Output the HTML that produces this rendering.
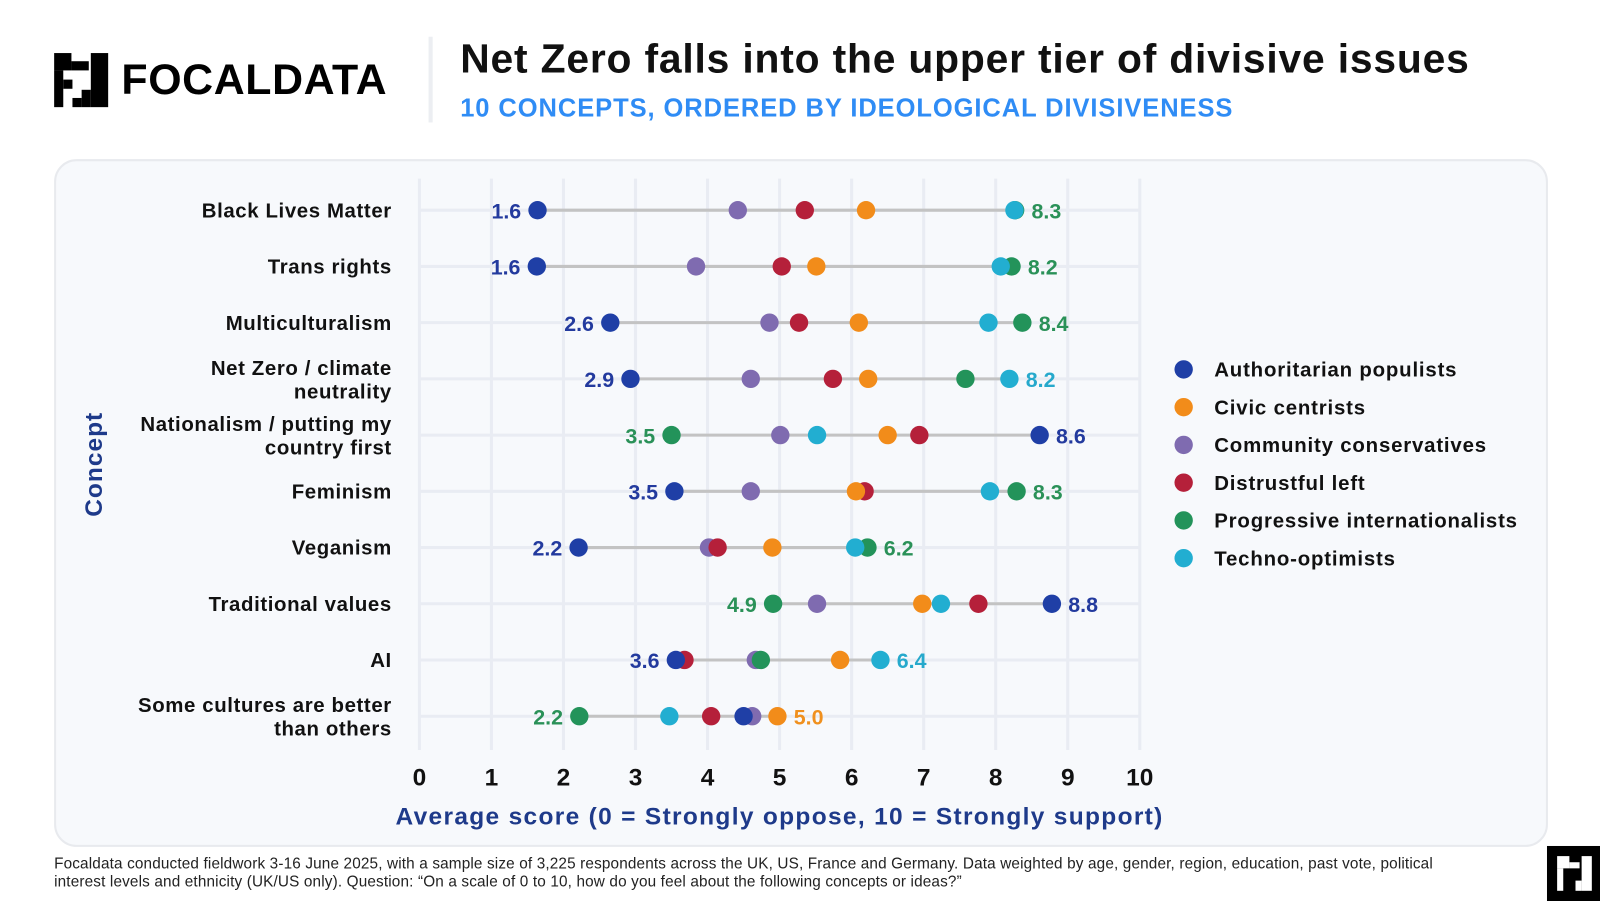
<!DOCTYPE html>
<html><head><meta charset="utf-8"><style>
body{margin:0;width:1600px;height:900px;background:#fff;font-family:"Liberation Sans",sans-serif;overflow:hidden;position:relative}
#wrap{position:absolute;left:0;top:0;width:1568px;height:882px;transform:scale(1.0204);transform-origin:0 0}
.abs{position:absolute}
</style></head><body>
<div id="wrap">
<div class="abs" style="left:53px;top:52px;width:330px;height:55px">
<svg width="54" height="54" style="position:absolute;left:0;top:0">
<rect x="0" y="0" width="17" height="17" fill="#000"/><rect x="17" y="8" width="17" height="9" fill="#000"/><rect x="0" y="17" width="9" height="36" fill="#000"/><rect x="9" y="26" width="9" height="9" fill="#000"/><rect x="36" y="0" width="17" height="53" fill="#000"/><rect x="27" y="36" width="9" height="17" fill="#000"/><rect x="18" y="44" width="9" height="9" fill="#000"/>
</svg>
<div class="abs" style="left:66px;top:2px;font-size:42px;font-weight:bold;letter-spacing:0.6px;color:#000">FOCALDATA</div>
</div>
<div class="abs" style="left:420px;top:36px;width:4px;height:84px;background:#eceef2"></div>
<div class="abs" style="left:451px;top:36px;font-size:40px;font-weight:bold;letter-spacing:0.8px;color:#111;white-space:nowrap">Net Zero falls into the upper tier of divisive issues</div>
<div class="abs" style="left:451px;top:92px;font-size:25px;font-weight:bold;letter-spacing:0.9px;color:#2f8cf5;white-space:nowrap">10 CONCEPTS, ORDERED BY IDEOLOGICAL DIVISIVENESS</div>
<div class="abs" style="left:53px;top:156px;width:1460px;height:670px;background:#f7f9fc;border:2px solid #e8eaee;border-radius:22px"></div>
<svg class="abs" style="left:0;top:0" width="1568" height="882" id="chart"></svg>
<div class="abs" style="left:53px;top:838px;font-size:15px;line-height:18px;color:#222;width:1400px;letter-spacing:0.15px">Focaldata conducted fieldwork 3-16 June 2025, with a sample size of 3,225 respondents across the UK, US, France and Germany. Data weighted by age, gender, region, education, past vote, political interest levels and ethnicity (UK/US only). Question: “On a scale of 0 to 10, how do you feel about the following concepts or ideas?”</div>
<svg class="abs" style="left:1516px;top:829px" width="54" height="54">
<rect width="54" height="54" fill="#000"/><g fill="#fff"><rect x="10" y="10" width="12" height="12"/><rect x="22" y="16" width="10" height="6"/><rect x="10" y="22" width="6" height="22"/><rect x="34" y="10" width="10" height="34"/><rect x="28" y="34" width="6" height="10"/></g>
</svg>
</div>
<script>
const concepts=["Black Lives Matter","Trans rights","Multiculturalism","Net Zero / climate|neutrality","Nationalism / putting my|country first","Feminism","Veganism","Traditional values","AI","Some cultures are better|than others"];
const groups=["Authoritarian populists","Civic centrists","Community conservatives","Distrustful left","Progressive internationalists","Techno-optimists"];
const colors=["#1f3fa6","#f28c1a","#7f6bb0","#b5203a","#23935a","#22aed1"];
const labelColors=["#233a9e","#f0901e","#7f6bb0","#b5203a","#2a9158","#26a9cc"];
const authPop=[1.64,1.63,2.65,2.93,8.61,3.54,2.21,8.78,3.56,4.50];
const civic=[6.20,5.51,6.10,6.23,6.50,6.06,4.90,6.98,5.84,4.97];
const commCons=[4.42,3.84,4.86,4.60,5.01,4.60,4.02,5.52,4.67,4.62];
const distLeft=[5.35,5.03,5.27,5.74,6.94,6.18,4.14,7.76,3.68,4.05];
const progInt=[8.27,8.22,8.37,7.58,3.50,8.29,6.22,4.91,4.74,2.22];
const techno=[8.26,8.07,7.90,8.19,5.52,7.92,6.05,7.24,6.40,3.47];
const series=[authPop,civic,commCons,distLeft,progInt,techno];
const drawOrder=[2,3,1,4,5,0];
const xTicks=[0,1,2,3,4,5,6,7,8,9,10];
const svg=document.getElementById('chart');const NS="http://www.w3.org/2000/svg";
const X0=411,X1=1117,Y0=206,STEP=55.1;
const x=v=>X0+(X1-X0)*v/10;const y=i=>Y0+i*STEP;
function mk(t,a,p){const e=document.createElementNS(NS,t);for(const k in a)e.setAttribute(k,a[k]);(p||svg).appendChild(e);return e;}
xTicks.forEach(t=>{const g=mk('line',{x1:x(t),x2:x(t),y1:175,y2:735,stroke:'#e9ecf3','stroke-width':3});


const tx=mk('text',{x:x(t),y:770,'text-anchor':'middle','font-size':24,'font-weight':'bold',fill:'#111'});tx.textContent=t;

});
concepts.forEach((c,i)=>{const g=mk('line',{x1:X0,x2:X1,y1:y(i),y2:y(i),stroke:'#e9ecf3','stroke-width':3});


const parts=c.split('|');parts.forEach((p,k)=>{const t=mk('text',{x:384,y:y(i)+7+(parts.length>1?(k?12:-11):0),'text-anchor':'end','font-size':20,'font-weight':'bold','letter-spacing':0.6,fill:'#111'});t.textContent=p;

});
const vals=series.map(s=>s[i]);const mn=Math.min(...vals),mx=Math.max(...vals);const imn=vals.indexOf(mn),imx=vals.indexOf(mx);
const ln=mk('line',{x1:x(mn),x2:x(mx),y1:y(i),y2:y(i),stroke:'#c3c3c3','stroke-width':3});


drawOrder.forEach(gi=>{const d=mk('circle',{cx:x(series[gi][i]),cy:y(i),r:9,fill:colors[gi]});

});
const l1=mk('text',{x:x(mn)-16,y:y(i)+8,'text-anchor':'end','font-size':21,'font-weight':'bold',fill:labelColors[imn]});l1.textContent=mn.toFixed(1);


const l2=mk('text',{x:x(mx)+16,y:y(i)+8,'font-size':21,'font-weight':'bold',fill:labelColors[imx]});l2.textContent=mx.toFixed(1);

});
const xt=mk('text',{x:(X0+X1)/2,y:808,'text-anchor':'middle','font-size':24,'font-weight':'bold','letter-spacing':1.3,fill:'#1e3a8a'});xt.textContent="Average score (0 = Strongly oppose, 10 = Strongly support)";


const yt=mk('text',{x:0,y:0,'text-anchor':'middle','font-size':24,'font-weight':'bold','letter-spacing':1,fill:'#1e3a8a',transform:'translate(100,455) rotate(-90)'});yt.textContent="Concept";


groups.forEach((g,k)=>{const c=mk('circle',{cx:1160,cy:362+k*37,r:9,fill:colors[k]});


const t=mk('text',{x:1190,y:369+k*37,'font-size':20,'font-weight':'bold','letter-spacing':0.8,fill:'#111'});t.textContent=g;

});
</script>
</body></html>
